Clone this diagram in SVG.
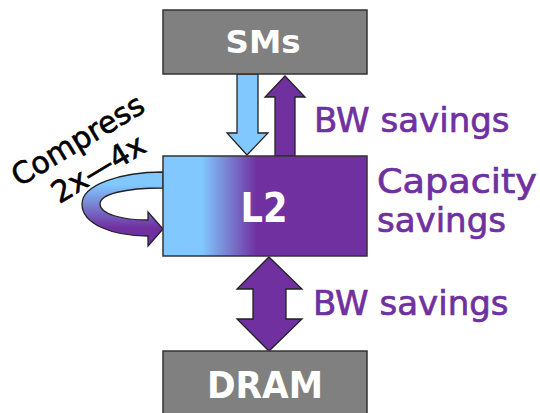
<svg xmlns="http://www.w3.org/2000/svg" width="540" height="413" viewBox="0 0 540 413">
<style>
.box{fill:#808080;stroke:#333;stroke-width:1.5}
.wt{fill:#fff;font-family:"DejaVu Sans",sans-serif;font-weight:bold;text-anchor:middle}
.pt{fill:#7030A0;stroke:#7030A0;stroke-width:0.7;font-family:"DejaVu Sans",sans-serif;font-size:34px}
.bt{fill:#000;stroke:#000;stroke-width:0.6;font-family:"DejaVu Sans",sans-serif;font-size:30px;text-anchor:middle}
.arr{stroke:#222;stroke-width:1.3;stroke-linejoin:miter}
</style>
<defs>
<linearGradient id="l2g" x1="0" y1="0" x2="1" y2="0">
<stop offset="0.19" stop-color="#80C8FF"/>
<stop offset="0.46" stop-color="#7030A0"/>
</linearGradient>
<linearGradient id="cg" gradientUnits="userSpaceOnUse" x1="0" y1="185" x2="0" y2="228">
<stop offset="0" stop-color="#80C8FF"/>
<stop offset="1" stop-color="#7030A0"/>
</linearGradient>
</defs>
<g id="connectors">
<path class="arr" fill="#80C8FF" d="M237,74 L258,74 L258,133 L268,133 L247,155 L227,133 L237,133 Z"/>
<path class="arr" fill="#7030A0" d="M285,76 L305,97 L295,97 L295,156 L275,156 L275,97 L265,97 Z"/>
<path class="arr" fill="#7030A0" d="M269,257 L302,289 L286,289 L286,319 L302,319 L269,351 L237,319 L253,319 L253,289 L237,289 Z"/>
<path class="arr" fill="url(#cg)" d="M163,172 C120,172 82,185 82,204 C82,224 112,236 148,236 L148,246 L163,229 L148,212 L148,220 C122,220 100,214 100,204 C100,194 125,188 163,188 Z"/>
</g>
<g id="sms">
<rect class="box" x="163" y="10" width="204" height="64"/>
<text class="wt" x="263" y="53" font-size="32" textLength="75" lengthAdjust="spacingAndGlyphs">SMs</text>
</g>
<g id="l2">
<rect x="163" y="156" width="204" height="100" fill="url(#l2g)" stroke="#333" stroke-width="1.5"/>
<text class="wt" x="264" y="222" font-size="41" textLength="47" lengthAdjust="spacingAndGlyphs">L2</text>
</g>
<g id="dram">
<rect class="box" x="163" y="351" width="204" height="70"/>
<text class="wt" x="265" y="398" font-size="38" textLength="116" lengthAdjust="spacingAndGlyphs">DRAM</text>
</g>
<g id="labels">
<text class="pt" x="314" y="132">BW savings</text>
<text class="pt" x="377" y="193" textLength="160" lengthAdjust="spacingAndGlyphs">Capacity</text>
<text class="pt" x="377" y="232">savings</text>
<text class="pt" x="313" y="315">BW savings</text>
<g transform="translate(83,149) rotate(-31)">
<text class="bt" x="0" y="0">Compress</text>
<text class="bt" x="3" y="35">2x—4x</text>
</g>
</g>
</svg>
